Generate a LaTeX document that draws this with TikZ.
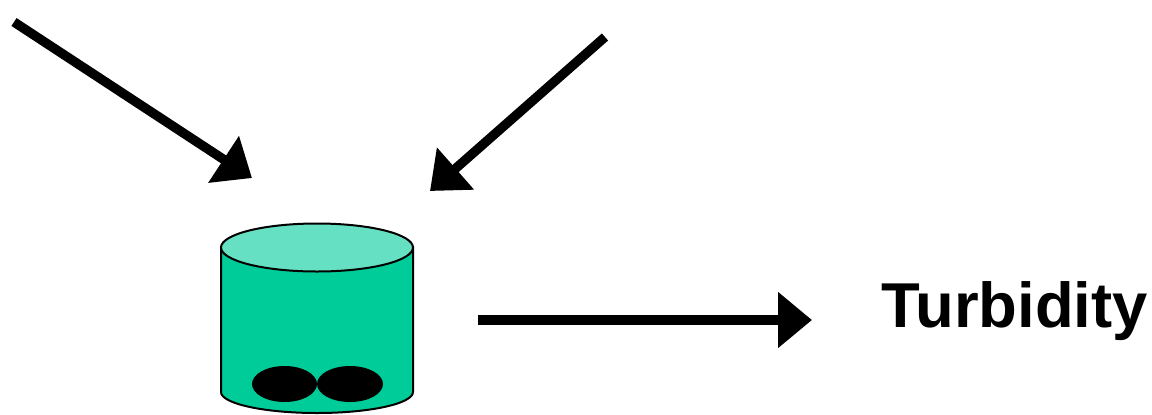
\documentclass[tikz,border=0pt]{standalone}
\usepackage{fontspec}
\setmainfont{Liberation Sans}
\usetikzlibrary{arrows.meta}
\definecolor{tankgreen}{RGB}{0,204,153}
\definecolor{tanklight}{RGB}{102,224,194}
\tikzset{
  bigarrow/.style={line width=4.7pt,-{Triangle[length=17pt,width=27pt]}},
  tankline/.style={draw=black,line width=1pt}
}
\begin{document}
\begin{tikzpicture}[x=0.5pt,y=-0.5pt]
  \useasboundingbox (0,0) rectangle (1152,414);
  % tank
  \filldraw[tankline,fill=tankgreen] (221,247.5) -- (221,392)
    arc[start angle=180,end angle=0,x radius=96,y radius=21] -- (413,247.5) -- cycle;
  \filldraw[tankline,fill=tanklight] (317,247.5) ellipse [x radius=96,y radius=24];
  \fill (284.5,384) ellipse [x radius=32.5,y radius=18];
  \fill (350,384) ellipse [x radius=33,y radius=18];
  % inputs and output
  \coordinate (in1) at (14,22);
  \coordinate (tank1) at (252,178);
  \coordinate (in2) at (605,37);
  \coordinate (tank2) at (430,191);
  \coordinate (out) at (478,320);
  \coordinate (outtip) at (812,320);
  \node[anchor=base west,inner sep=0pt,font=\bfseries\fontsize{31.7pt}{38pt}\selectfont] (turb) at (881,327) {Turbidity};
  \draw[bigarrow] (in1) -- (tank1);
  \draw[bigarrow] (in2) -- (tank2);
  \draw[bigarrow] (out) -- (outtip);
\end{tikzpicture}
\end{document}
